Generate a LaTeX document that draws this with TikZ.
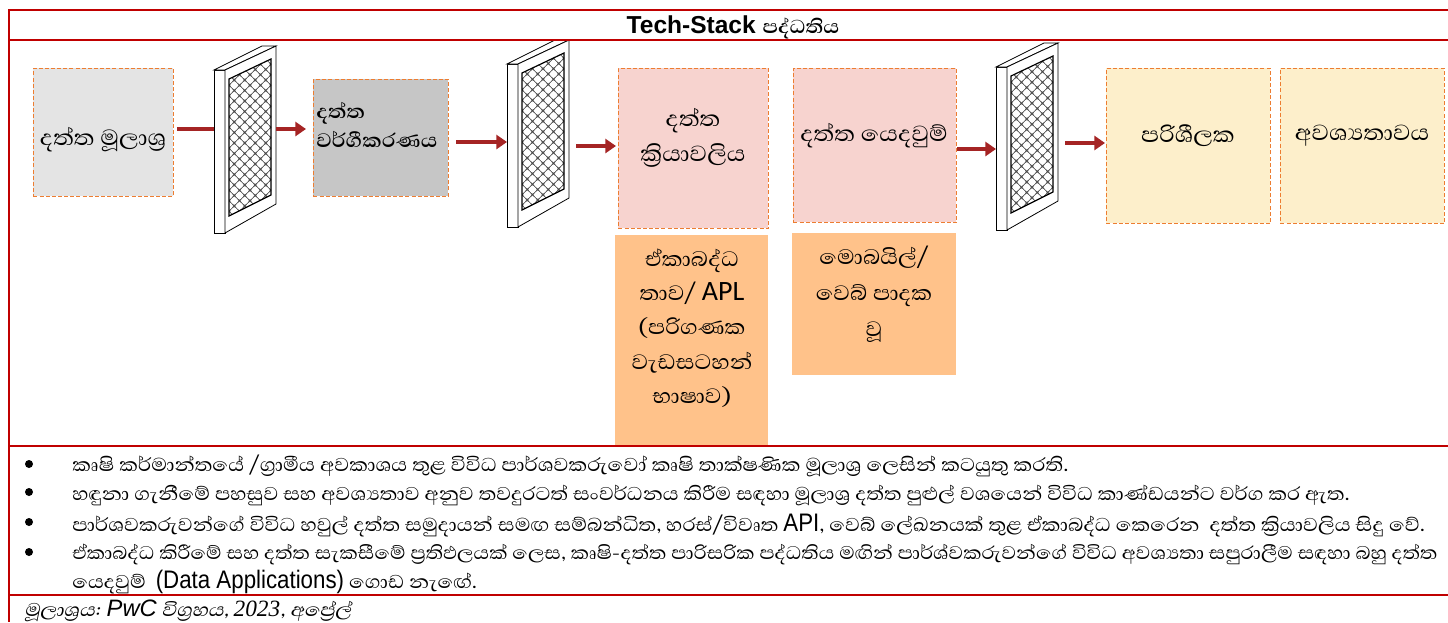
\documentclass[tikz,border=0pt]{standalone}
\usepackage{fontspec}
\setmainfont{Liberation Sans}
\newfontfamily\sifont[Script=Sinhala,FakeStretch=1.1]{Abhaya Libre}
\newfontfamily\sislant[Script=Sinhala,FakeSlant=0.2,FakeStretch=1.1]{Abhaya Libre}
\newfontfamily\narrowsans[FakeStretch=0.88]{Liberation Sans}
\newfontfamily\serifit{Liberation Serif}
\newfontfamily\calib{Carlito}
\usetikzlibrary{arrows.meta}
\definecolor{frameRed}{HTML}{C00000}
\definecolor{flowRed}{HTML}{A52424}
\definecolor{dashOrange}{HTML}{ED7D31}
\definecolor{grayA}{HTML}{E4E4E4}
\definecolor{grayB}{HTML}{C6C6C6}
\definecolor{pinkBox}{HTML}{F7D3CF}
\definecolor{creamBox}{HTML}{FDEFCB}
\definecolor{peachBox}{HTML}{FFC28A}
\tikzset{
  x=0.75pt,y=-0.75pt,
  framerule/.style={frameRed,line width=1.5pt},
  flowbox/.style={draw=dashOrange,dashed,line width=0.7pt,dash pattern=on 3pt off 1.6pt,minimum width=#1,inner sep=2pt,align=center,text=black},
  boxlabel/.style={font=\sifont\fontsize{21}{26.5}\selectfont,align=center,text=black},
  flow/.style={flowRed,line width=3.6pt,-{Triangle[length=8pt,width=10.5pt]}},
  flowplain/.style={flowRed,line width=3.6pt},
  bulletdot/.style={circle,fill=black,inner sep=0pt,minimum size=6pt},
  bodytext/.style={anchor=base west,inner sep=0pt,text=black,font=\sifont\fontsize{17.8}{17}\selectfont},
  pics/filterpanel/.style={code={
    \coordinate (-in) at (0,88);
    \coordinate (-out) at (62,88);
    \filldraw[fill=white,draw=black,line width=0.6pt] (0,0) -- (11,0) -- (11,163) -- (0,163) -- cycle;
    \filldraw[fill=white,draw=black,line width=0.6pt] (0,0) -- (48,-24) -- (62,-24) -- (11,0) -- cycle;
    \filldraw[fill=white,draw=black,line width=0.6pt] (11,0) -- (62,-24) -- (62,134) -- (11,163) -- cycle;
    \begin{scope}
      \clip (15,9) -- (57,-11) -- (57,125) -- (15,146) -- cycle;
      \fill[black!42] (0,-30) rectangle (72,160);
      \foreach \i in {0,...,4}{\foreach \j in {0,...,16}{
        \fill[white] (15+\i*10.5,-11+\j*10.5) circle[radius=2.9pt];
        \fill[white] (20.25+\i*10.5,-5.75+\j*10.5) circle[radius=2.9pt];
      }}
      \foreach \k in {-4,...,24}{
        \draw[black!75,line width=0.35pt] (0,\k*10.5+9.25) -- (72,\k*10.5-62.75);
        \draw[black!75,line width=0.35pt] (0,\k*10.5-31.25) -- (72,\k*10.5+40.75);
      }
    \end{scope}
    \draw[black,line width=0.9pt] (15,9) -- (57,-11) -- (57,125) -- (15,146) -- cycle;
  }}
}
\begin{document}
\begin{tikzpicture}
\useasboundingbox (0,0) rectangle (1448,622);
\fill[white] (0,0) rectangle (1448,622);

% boxes
\node[flowbox=105pt,minimum height=96pt,fill=grayA,anchor=north west] (b1) at (33,68) {};
\node[boxlabel] (t1) at (103,140) {දත්ත මූලාශ්‍ර};
\node[flowbox=101.25pt,minimum height=87.75pt,fill=grayB,anchor=north west] (b2) at (313,79) {};
\node[anchor=west,inner sep=0pt,align=left,font=\sifont\fontsize{18.7}{22}\bfseries\selectfont] (t2) at (316,125) {දත්ත\\වර්ගීකරණය};
\node[flowbox=112.5pt,minimum height=120pt,fill=pinkBox,anchor=north west] (b3) at (618,68) {};
\node[boxlabel] (t3) at (693,138) {දත්ත\\ක්‍රියාවලිය};
\node[flowbox=122.25pt,minimum height=115.5pt,fill=pinkBox,anchor=north west] (b4) at (793,68) {};
\node[boxlabel] (t4) at (874,136) {දත්ත යෙදවුම්};
\node[flowbox=123pt,minimum height=116.25pt,fill=creamBox,anchor=north west] (b5) at (1106,68) {};
\node[boxlabel] (t5) at (1188,136) {පරිශීලක};
\node[flowbox=123pt,minimum height=116.25pt,fill=creamBox,anchor=north west] (b6) at (1280,68) {};
\node[boxlabel] (t6) at (1362,136) {අවශ්‍යතාවය};

\fill[peachBox] (615,235) rectangle (768,446);
\node[font=\sifont\fontsize{20}{25.7}\selectfont,align=center] (o1) at (692,328) {ඒකාබද්ධ\\තාව/ {\calib\fontsize{21}{25.7}\selectfont APL}\\(පරිගණක\\වැඩසටහන්\\භාෂාව)};
\fill[peachBox] (792,233) rectangle (956,375);
\node[font=\sifont\fontsize{20}{27}\selectfont,align=center] (o2) at (874,294) {මොබයිල්/\\වෙබ් පාදක\\වූ};

% connectors behind panels
\coordinate (a1s) at (177,129);\coordinate (a1e) at (216,129);
\draw[flowplain] (a1s) -- (a1e);
\coordinate (a3s) at (456,142);\coordinate (a3e) at (507,142);
\draw[flow] (a3s) -- (a3e);
\coordinate (a5s) at (957,149);\coordinate (a5e) at (996,149);
\draw[flow] (a5s) -- (a5e);

% panels
\pic (p1) at (214,70) {filterpanel};
\pic (p2) at (507,64) {filterpanel};
\pic (p3) at (996,67) {filterpanel};

\coordinate (a2s) at (276,129);\coordinate (a2e) at (306,129);
\draw[flow] (a2s) -- (a2e);
\coordinate (a4s) at (576,146);\coordinate (a4e) at (616,146);
\draw[flow] (a4s) -- (a4e);
\coordinate (a6s) at (1065,143);\coordinate (a6e) at (1105,143);
\draw[flow] (a6s) -- (a6e);

% frame
\draw[framerule] (1448,10) -- (9,10) -- (9,622);
\draw[framerule] (9,40) -- (1448,40);
\draw[framerule] (9,446) -- (1448,446);
\draw[framerule] (9,595) -- (1448,595);

% title
\node[font=\fontsize{18.4}{20}\bfseries\selectfont] (title) at (733,27) {Tech-Stack {\sifont\fontsize{18}{20}\selectfont පද්ධතිය}};

% bullets
\node[bulletdot] (d1) at (29,464) {};
\node[bulletdot] (d2) at (29,492) {};
\node[bulletdot] (d3) at (29,522) {};
\node[bulletdot] (d4) at (29,552) {};
\node[bodytext,font=\sifont\fontsize{17.92}{17}\selectfont] (l1) at (72,471) {කෘෂි කර්මාන්තයේ /ග්‍රාමීය අවකාශය තුළ විවිධ පාර්ශවකරුවෝ කෘෂි තාක්ෂණික මූලාශ්‍ර ලෙසින් කටයුතු කරති.};
\node[bodytext] (l2) at (72,500) {හඳුනා ගැනීමේ පහසුව සහ අවශ්‍යතාව අනුව තවදුරටත් සංවර්ධනය කිරීම සඳහා මූලාශ්‍ර දත්ත පුළුල් වශයෙන් විවිධ කාණ්ඩයන්ට වර්ග කර ඇත.};
\node[bodytext,font=\sifont\fontsize{17.88}{17}\selectfont] (l3) at (72,531) {පාර්ශවකරුවන්ගේ විවිධ හවුල් දත්ත සමුදායන් සමඟ සම්බන්ධිත, හරස්/විවෘත {\narrowsans\fontsize{19}{17}\selectfont API}, වෙබ් ලේඛනයක් තුළ ඒකාබද්ධ කෙරෙන~~දත්ත ක්‍රියාවලිය සිදු වේ.};
\node[bodytext,font=\sifont\fontsize{17.55}{17}\selectfont] (l4) at (72,559) {ඒකාබද්ධ කිරීමේ සහ දත්ත සැකසීමේ ප්‍රතිඵලයක් ලෙස, කෘෂි-දත්ත පාරිසරික පද්ධතිය මඟින් පාර්ශ්වකරුවන්ගේ විවිධ අවශ්‍යතා සපුරාලීම සඳහා බහු දත්ත};
\node[bodytext] (l5) at (72,588) {යෙදවුම්~~{\narrowsans\fontsize{19}{17}\selectfont (Data Applications)} ගොඩ නැඟේ.};

% source
\node[anchor=base west,inner sep=0pt,font=\sislant\fontsize{17.6}{17}\selectfont] (src) at (24,616) {මූලාශ්‍රය: {\rmfamily\itshape\fontsize{17.8}{17}\selectfont PwC} විග්‍රහය, {\serifit\itshape\fontsize{17.5}{17}\selectfont 2023}, අප්‍රේල්};
\end{tikzpicture}
\end{document}
